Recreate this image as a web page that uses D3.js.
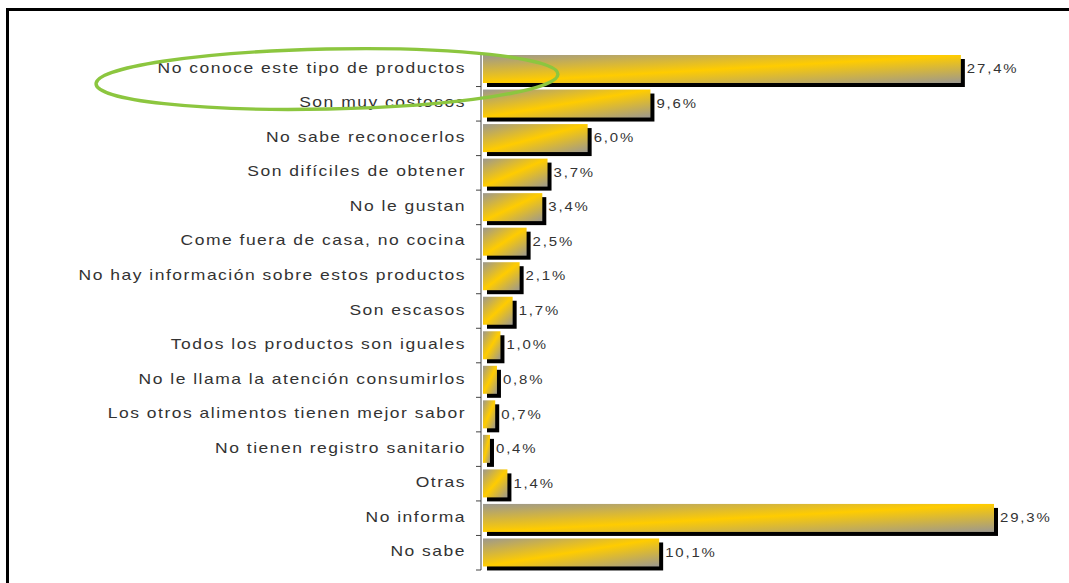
<!DOCTYPE html>
<html><head><meta charset="utf-8">
<script src="https://cdn.jsdelivr.net/npm/d3@7"></script>
<style>body{margin:0;background:#fff}svg{display:block}</style>
</head><body>
<script>
const categories = [
  "No conoce este tipo de productos","Son muy costosos","No sabe reconocerlos",
  "Son difíciles de obtener","No le gustan","Come fuera de casa, no cocina",
  "No hay información sobre estos productos","Son escasos","Todos los productos son iguales",
  "No le llama la atención consumirlos","Los otros alimentos tienen mejor sabor",
  "No tienen registro sanitario","Otras","No informa","No sabe"];
const values = [27.4,9.6,6.0,3.7,3.4,2.5,2.1,1.7,1.0,0.8,0.7,0.4,1.4,29.3,10.1];
const valueLabels = ["27,4%","9,6%","6,0%","3,7%","3,4%","2,5%","2,1%","1,7%","1,0%","0,8%","0,7%","0,4%","1,4%","29,3%","10,1%"];
const highlighted = ["No conoce este tipo de productos","Son muy costosos"];

const W = 1069, H = 583;
const svg = d3.select("body").append("svg").attr("width", W).attr("height", H);

const defs = svg.append("defs");
const g = defs.append("linearGradient").attr("id","barGrad")
  .attr("x1",0).attr("y1",0).attr("x2",1).attr("y2",1);
g.append("stop").attr("offset","0%").attr("stop-color","#9c988f");
g.append("stop").attr("offset","50%").attr("stop-color","#ffcc00");
g.append("stop").attr("offset","100%").attr("stop-color","#9c988f");

const x = d3.scaleLinear().domain([0, 29.3]).range([483, 994]);
const y = d3.scaleBand().domain(categories).range([52, 570]).padding(0);

// frame (top and left edges)
svg.append("line").attr("x1",6).attr("x2",W).attr("y1",9.5).attr("y2",9.5).attr("stroke","#000").attr("stroke-width",3);
svg.append("line").attr("x1",7.5).attr("x2",7.5).attr("y1",8).attr("y2",H).attr("stroke","#000").attr("stroke-width",3);

const bars = svg.append("g");
const data = categories.map((c,i)=>({c, v:values[i], l:valueLabels[i]}));
// shadows
bars.selectAll("rect.sh").data(data).join("rect").attr("class","sh")
  .attr("x", x(0)+4).attr("y", d=>y(d.c)+7)
  .attr("width", d=>x(d.v)-x(0)).attr("height", 28).attr("fill","#000");
bars.selectAll("rect.bar").data(data).join("rect").attr("class","bar")
  .attr("x", x(0)).attr("y", d=>y(d.c)+3)
  .attr("width", d=>x(d.v)-x(0)).attr("height", 28).attr("fill","url(#barGrad)");

// axis
const LS = 1.25;
const axis = d3.axisLeft(y).tickSize(0).tickPadding(15).tickFormat(d=>d);
const ax = svg.append("g").attr("transform","translate(481,0)").call(axis);
ax.select(".domain").attr("stroke","#444").attr("d","M0,52V570");
ax.selectAll("text").attr("font-family","'Liberation Sans', Arial, sans-serif")
  .attr("font-size","14px").attr("fill","#333").attr("letter-spacing","1.2px")
  .attr("dy","0.25em").attr("x", -15/LS).attr("transform",`scale(${LS},1)`);
// boundary ticks
svg.append("g").selectAll("line").data(d3.range(1, categories.length+1)).join("line")
  .attr("x1",476).attr("x2",481)
  .attr("y1",i=>52+i*y.step()).attr("y2",i=>52+i*y.step())
  .attr("stroke","#444");

// value labels
const VS = 1.15;
svg.append("g").selectAll("g").data(data).join("g")
  .attr("transform", d=>`translate(${x(d.v)+6},${y(d.c)+y.bandwidth()/2})`)
  .append("text").attr("transform",`scale(${VS},1)`)
  .attr("dy","0.3em")
  .attr("font-family","'Liberation Sans', Arial, sans-serif").attr("font-size","13px")
  .attr("letter-spacing","1.6px").attr("fill","#333").text(d=>d.l);

// highlight ellipse
const hy = (y(highlighted[0]) + y(highlighted[1]) + y.bandwidth())/2 - 7.5;
svg.append("ellipse").attr("cx",327).attr("cy",hy).attr("rx",231).attr("ry",30)
  .attr("transform",`rotate(-1.2,327,${hy})`)
  .attr("fill","none").attr("stroke","#8cc63f").attr("stroke-width",3.4);
</script>
</body></html>
